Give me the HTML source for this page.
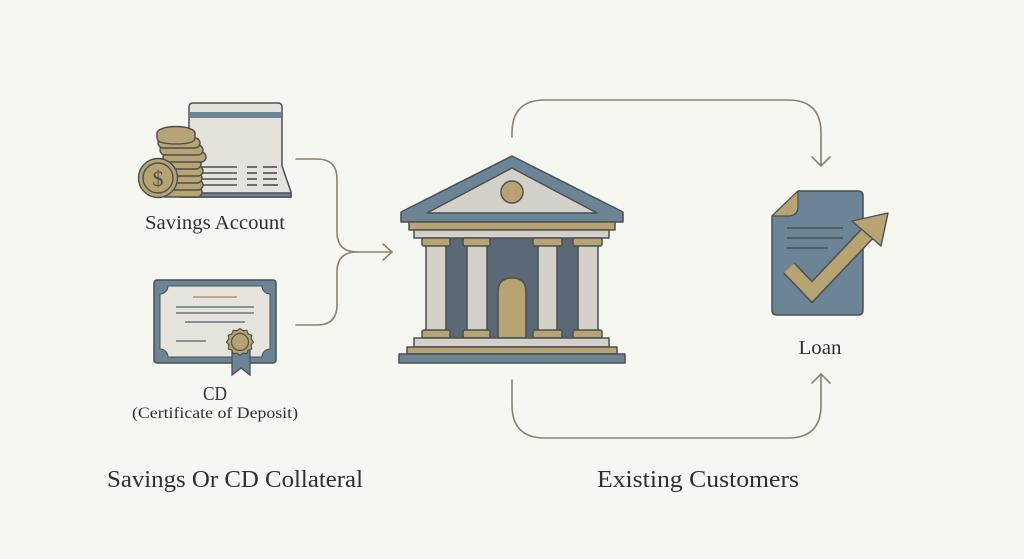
<!DOCTYPE html>
<html>
<head>
<meta charset="utf-8">
<style>
  html, body { margin: 0; padding: 0; background: #f7f7f2; }
  body { width: 1024px; height: 559px; overflow: hidden; }
  svg { display: block; }
  text { font-family: "Liberation Serif", serif; fill: #2f2f2f; }
</style>
</head>
<body>
<svg width="1024" height="559" viewBox="0 0 1024 559" xmlns="http://www.w3.org/2000/svg">
  <rect width="1024" height="559" fill="#f7f7f2"/>

  <!-- Connectors -->
  <g fill="none" stroke="#8a8270" stroke-width="1.6" stroke-linecap="round">
    <path d="M296,159 L317,159 Q337,159 337,179 L337,232 Q337,252 357,252 L392,252"/>
    <path d="M296,325 L317,325 Q337,325 337,305 L337,272 Q337,252 357,252"/>
    <path d="M383,244 L392,252 L383,260"/>
    <path d="M512,137 L512,133 Q512,100 545,100 L788,100 Q821,100 821,133 L821,165"/>
    <path d="M812,157 L821,166 L830,157"/>
    <path d="M512,380 L512,405 Q512,438 545,438 L788,438 Q821,438 821,405 L821,374"/>
    <path d="M812,383 L821,374 L830,383"/>
  </g>

  <!-- Savings Account: laptop -->
  <g stroke="#4b4f52" stroke-width="1.5" stroke-linejoin="round">
    <path d="M189,166 L189,107 Q189,103 193,103 L278,103 Q282,103 282,107 L282,166 L291,192 L291,197 L180,197 L180,192 Z" fill="#e4e2da"/>
    <rect x="190" y="112" width="91" height="6" fill="#6b8596" stroke="none"/>
    <path d="M180,193 L291,193 L291,197 L180,197 Z" fill="#6b8596"/>
  </g>
  <g stroke="#4b4f52" stroke-width="1.6">
    <line x1="201" y1="167" x2="237" y2="167"/>
    <line x1="201" y1="173" x2="237" y2="173"/>
    <line x1="201" y1="179" x2="237" y2="179"/>
    <line x1="201" y1="185" x2="237" y2="185"/>
    <line x1="247" y1="167" x2="257" y2="167"/><line x1="263" y1="167" x2="277" y2="167"/>
    <line x1="247" y1="173" x2="257" y2="173"/><line x1="263" y1="173" x2="277" y2="173"/>
    <line x1="247" y1="179" x2="257" y2="179"/><line x1="263" y1="179" x2="277" y2="179"/>
    <line x1="247" y1="185" x2="257" y2="185"/><line x1="263" y1="185" x2="278" y2="185"/>
  </g>
  <!-- coins -->
  <g fill="#b8a472" stroke="#4b4f52" stroke-width="1.4">
    <rect x="160" y="187" width="42" height="10" rx="5"/>
    <rect x="162" y="180" width="41" height="10" rx="5"/>
    <rect x="160" y="173" width="42" height="10" rx="5"/>
    <rect x="161" y="166" width="42" height="10" rx="5"/>
    <rect x="159" y="159" width="42" height="10" rx="5"/>
    <rect x="163" y="152" width="43" height="10" rx="5"/>
    <rect x="160" y="145" width="43" height="10" rx="5"/>
    <rect x="158" y="138" width="42" height="10" rx="5"/>
    <ellipse cx="176" cy="133" rx="19" ry="6.5"/>
    <path d="M157,133 L157,138 Q157,144 176,144 Q195,144 195,138 L195,133" fill="#b8a472"/>
    <circle cx="158" cy="178" r="19.5"/>
    <circle cx="158" cy="178" r="15" fill="none"/>
  </g>
  <text x="158" y="186" text-anchor="middle" font-size="22" style="fill:#4b4f52">$</text>

  <text x="215" y="229" text-anchor="middle" font-size="20" textLength="140" lengthAdjust="spacingAndGlyphs">Savings Account</text>

  <!-- CD certificate -->
  <rect x="154" y="280" width="122" height="83" rx="3" fill="#6b8596" stroke="#4b4f52" stroke-width="1.5"/>
  <path d="M168,286 L262,286 A8,8 0 0 0 270,294 L270,349 A8,8 0 0 0 262,357 L168,357 A8,8 0 0 0 160,349 L160,294 A8,8 0 0 0 168,286 Z" fill="#e6e4dd" stroke="#4b4f52" stroke-width="1"/>
  <g stroke-width="1.4">
    <line x1="193" y1="297" x2="237" y2="297" stroke="#a89868"/>
    <line x1="176" y1="307" x2="254" y2="307" stroke="#6b7580"/>
    <line x1="176" y1="313" x2="254" y2="313" stroke="#6b7580"/>
    <line x1="185" y1="322" x2="245" y2="322" stroke="#6b7580"/>
    <line x1="176" y1="341" x2="206" y2="341" stroke="#6b7580"/>
  </g>
  <polygon points="232,346 250,346 250,375 241,368 232,375" fill="#6b8596" stroke="#4b4f52" stroke-width="1.3"/>
  <polygon points="253.5,342 251.1,345 251.7,348.8 248.1,350.1 246.8,353.7 243,353.1 240,355.5 237,353.1 233.3,353.7 231.9,350.1 228.3,348.8 228.9,345 226.5,342 228.9,339 228.3,335.3 231.9,333.9 233.3,330.3 237,330.9 240,328.5 243,330.9 246.8,330.3 248.1,333.9 251.7,335.3 251.1,339" fill="#b8a472" stroke="#4b4f52" stroke-width="1.2"/>
  <circle cx="240" cy="342" r="8.5" fill="#b8a472" stroke="#4b4f52" stroke-width="1.2"/>

  <text x="215" y="400" text-anchor="middle" font-size="20" textLength="24" lengthAdjust="spacingAndGlyphs">CD</text>
  <text x="215" y="418" text-anchor="middle" font-size="16" textLength="166" lengthAdjust="spacingAndGlyphs">(Certificate of Deposit)</text>

  <!-- Bank -->
  <g stroke="#4b4f52" stroke-width="1.5" stroke-linejoin="round">
    <rect x="445" y="237" width="135" height="101" fill="#5a6975"/>
    <polygon points="512,156 623,212 623,222 401,222 401,212" fill="#6b8596"/>
    <polygon points="512,168 597,213 427,213" fill="#d3d1c7"/>
    <circle cx="512" cy="192" r="11" fill="#b8a472"/>
    <rect x="409" y="222" width="206" height="8" fill="#b8a472"/>
    <rect x="414" y="230" width="195" height="8" fill="#d3d1c7"/>
    <!-- columns -->
    <rect x="426" y="245" width="20" height="87" fill="#d3d1c7"/>
    <rect x="467" y="245" width="20" height="87" fill="#d3d1c7"/>
    <rect x="538" y="245" width="19" height="87" fill="#d3d1c7"/>
    <rect x="578" y="245" width="20" height="87" fill="#d3d1c7"/>
    <rect x="422" y="238" width="28" height="8" rx="2" fill="#b8a472"/>
    <rect x="463" y="238" width="27" height="8" rx="2" fill="#b8a472"/>
    <rect x="533" y="238" width="29" height="8" rx="2" fill="#b8a472"/>
    <rect x="573" y="238" width="29" height="8" rx="2" fill="#b8a472"/>
    <rect x="422" y="330" width="28" height="8" rx="2" fill="#b8a472"/>
    <rect x="463" y="330" width="27" height="8" rx="2" fill="#b8a472"/>
    <rect x="533" y="330" width="29" height="8" rx="2" fill="#b8a472"/>
    <rect x="573" y="330" width="29" height="8" rx="2" fill="#b8a472"/>
    <!-- door -->
    <path d="M498,338 L498,292 Q498,278 512,278 Q526,278 526,292 L526,338 Z" fill="#b8a472"/>
    <!-- steps -->
    <rect x="414" y="338" width="195" height="9" fill="#d3d1c7"/>
    <rect x="407" y="347" width="210" height="7" fill="#b8a472"/>
    <rect x="399" y="354" width="226" height="9" fill="#6b8596"/>
  </g>

  <!-- Loan document -->
  <path d="M798,191 L858,191 Q863,191 863,196 L863,310 Q863,315 858,315 L777,315 Q772,315 772,310 L772,216 Z" fill="#6b8596" stroke="#4b4f52" stroke-width="1.5" stroke-linejoin="round"/>
  <path d="M772,216 L798,191 L798,208 Q797,215 790,216 Z" fill="#b8a472" stroke="#4b4f52" stroke-width="1.2" stroke-linejoin="round"/>
  <g stroke="#4b4f52" stroke-width="1.4">
    <line x1="787" y1="228" x2="843" y2="228"/>
    <line x1="787" y1="238" x2="843" y2="238"/>
    <line x1="787" y1="248" x2="828" y2="248"/>
  </g>
  <polyline points="789,268 812,292 867,234" fill="none" stroke="#4b4f52" stroke-width="16" stroke-linejoin="miter"/>
  <polyline points="789,268 812,292 867,234" fill="none" stroke="#b8a472" stroke-width="13" stroke-linejoin="miter"/>
  <polygon points="888,213 852,221 881,246" fill="#b8a472" stroke="#4b4f52" stroke-width="1.4" stroke-linejoin="round"/>

  <text x="820" y="354" text-anchor="middle" font-size="20" textLength="43" lengthAdjust="spacingAndGlyphs">Loan</text>

  <!-- Bottom labels -->
  <text x="235" y="487" text-anchor="middle" font-size="24" textLength="256" lengthAdjust="spacingAndGlyphs">Savings Or CD Collateral</text>
  <text x="698" y="487" text-anchor="middle" font-size="24" textLength="202" lengthAdjust="spacingAndGlyphs">Existing Customers</text>
</svg>
</body>
</html>
